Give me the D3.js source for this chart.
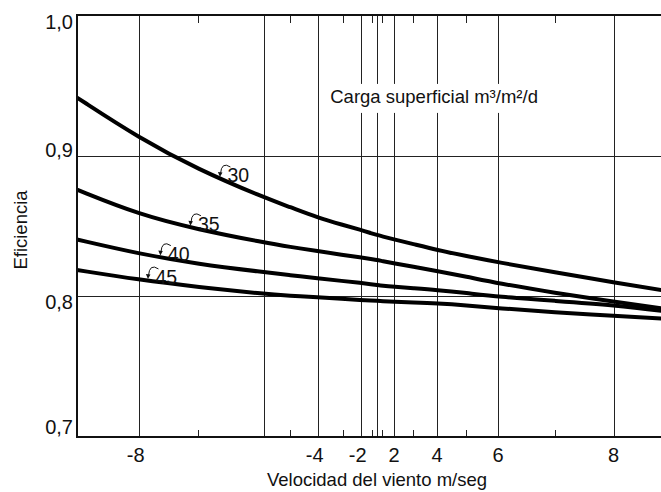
<!DOCTYPE html>
<html>
<head>
<meta charset="utf-8">
<script src="https://cdn.jsdelivr.net/npm/d3@7"></script>
<style>
  body { margin: 0; background: #fff; }
  svg { display: block; font-family: "Liberation Sans", Arial, sans-serif; }
</style>
</head>
<body>
<svg id="chart" width="661" height="492"></svg>
<script>
// wind speed samples (m/seg) the curves are read at
var windSpeeds = [-9, -8, -7, -6, -5, -4, -3, -2, -1, 0, 1, 2, 3, 4, 5, 6, 7, 8, 9];
// efficiency for each surface load (m3/m2/d)
var eff30 = [0.9413, 0.9126, 0.8902, 0.8702, 0.8635, 0.8559, 0.8508, 0.8472, 0.8448, 0.8436, 0.8427, 0.8405, 0.8373, 0.8329, 0.8287, 0.8242, 0.8172, 0.8099, 0.8034];
var eff35 = [0.8758, 0.8581, 0.8475, 0.8383, 0.8351, 0.8322, 0.8295, 0.8276, 0.8264, 0.8258, 0.8251, 0.8235, 0.8211, 0.8180, 0.8141, 0.8093, 0.8025, 0.7962, 0.7906];
var eff40 = [0.8404, 0.8302, 0.8230, 0.8172, 0.8150, 0.8128, 0.8109, 0.8095, 0.8086, 0.8081, 0.8076, 0.8068, 0.8058, 0.8045, 0.8024, 0.7997, 0.7968, 0.7938, 0.7889];
var eff45 = [0.8187, 0.8118, 0.8066, 0.8017, 0.8004, 0.7993, 0.7982, 0.7974, 0.7970, 0.7968, 0.7966, 0.7962, 0.7957, 0.7950, 0.7936, 0.7915, 0.7887, 0.7862, 0.7839];
var loads = ['30', '35', '40', '45'];
// where each load label sits along the curve (wind speed)
var labelAt = [-6.66, -7.12, -7.63, -7.84];

var yTicks = [0.7, 0.8, 0.9, 1.0];
var xLabelTicks = [-8, -4, -2, 2, 4, 6, 8];
var xGridTicks = [-8, -6, -4, -2, 0, 2, 4, 6, 8];
var xMinorTicks = [-7, -5, -3, -1, 1, 3, 5, 7];

var series = [eff30, eff35, eff40, eff45];

var svg = d3.select('#chart');
var margin = {top: 15, left: 77, bottom: 55};
var chartWidth = 661 - margin.left;
var chartHeight = 492 - margin.top - margin.bottom;

// the original axis is drawn non-uniform (squeezed round zero), so a polylinear scale
var xScale = d3.scaleLinear()
  .domain(windSpeeds)
  .range([0, 62, 121, 187, 213, 241, 265.5, 284, 294.5, 300, 305, 317, 335.5, 360, 389, 421, 477.5, 536.5, 594]);
var yScale = d3.scaleLinear().domain([0.7, 1.0]).range([chartHeight, 0]);

var g = svg.append('g')
  .attr('transform', 'translate(' + margin.left + ',' + margin.top + ')');

// grid
g.selectAll('.vgrid').data(xGridTicks).enter().append('line')
  .attr('class', 'vgrid')
  .attr('x1', function(d) { return Math.round(xScale(d)) + 0.5; })
  .attr('x2', function(d) { return Math.round(xScale(d)) + 0.5; })
  .attr('y1', 0).attr('y2', chartHeight)
  .attr('stroke', '#222').attr('stroke-width', 1);
g.selectAll('.hgrid').data([0.8, 0.9]).enter().append('line')
  .attr('class', 'hgrid')
  .attr('x1', 0).attr('x2', chartWidth)
  .attr('y1', function(d) { return Math.round(yScale(d)) + 0.5; })
  .attr('y2', function(d) { return Math.round(yScale(d)) + 0.5; })
  .attr('stroke', '#222').attr('stroke-width', 1);

// minor ticks top and bottom
g.selectAll('.mtick-b').data(xMinorTicks).enter().append('line')
  .attr('x1', function(d) { return Math.round(xScale(d)) + 0.5; })
  .attr('x2', function(d) { return Math.round(xScale(d)) + 0.5; })
  .attr('y1', chartHeight).attr('y2', chartHeight - 7)
  .attr('stroke', '#222').attr('stroke-width', 1);
g.selectAll('.mtick-t').data(xMinorTicks).enter().append('line')
  .attr('x1', function(d) { return Math.round(xScale(d)) + 0.5; })
  .attr('x2', function(d) { return Math.round(xScale(d)) + 0.5; })
  .attr('y1', 0).attr('y2', 8)
  .attr('stroke', '#222').attr('stroke-width', 1);

// legend title, with a white patch that breaks the grid lines
var titleG = g.append('g').attr('transform', 'translate(' + xScale(-3.5) + ',' + (yScale(0.9375)) + ')');
titleG.append('rect')
  .attr('x', -4).attr('y', -19).attr('width', 225).attr('height', 29)
  .attr('fill', '#fff');
titleG.append('text')
  .attr('x', 0).attr('y', 0)
  .attr('font-size', 18.5)
  .attr('fill', '#111')
  .text('Carga superficial m³/m²/d');

// curves
var line = d3.line()
  .x(function(d, i) { return xScale(windSpeeds[i]); })
  .y(function(d) { return yScale(d); })
  .curve(d3.curveBasis);

g.selectAll('.curve').data(series).enter().append('path')
  .attr('class', 'curve')
  .attr('d', line)
  .attr('fill', 'none')
  .attr('stroke', '#000')
  .attr('stroke-width', 4)
  .attr('stroke-linejoin', 'round');

// curve labels with the little hook arrows
function curveY(values, w) {
  var px = xScale(w);
  for (var i = 0; i < windSpeeds.length - 1; i++) {
    var a = xScale(windSpeeds[i]), b = xScale(windSpeeds[i + 1]);
    if (px >= a && px <= b) {
      var t = (px - a) / (b - a);
      return yScale(values[i]) * (1 - t) + yScale(values[i + 1]) * t;
    }
  }
  return yScale(values[0]);
}

loads.forEach(function(load, k) {
  var tx = xScale(labelAt[k]);
  var ty = curveY(series[k], labelAt[k]) - 3;
  g.append('path')
    .attr('d', 'M' + (tx + 10) + ',' + (ty - 9) + ' Q' + (tx + 1) + ',' + (ty - 15) + ' ' + tx + ',' + (ty - 2))
    .attr('fill', 'none').attr('stroke', '#111').attr('stroke-width', 1);
  g.append('path')
    .attr('d', 'M' + (tx - 2.5) + ',' + (ty - 4) + ' L' + (tx + 2) + ',' + (ty - 3.5) + ' L' + (tx - 0.5) + ',' + (ty + 1) + 'Z')
    .attr('fill', '#111');
  g.append('text')
    .attr('x', tx + 7).attr('y', ty + 6)
    .attr('font-size', 19.5)
    .attr('fill', '#111')
    .text(load);
});

// frame
g.append('line').attr('x1', 0).attr('x2', chartWidth).attr('y1', 0).attr('y2', 0)
  .attr('stroke', '#111').attr('stroke-width', 2);
g.append('line').attr('x1', 0).attr('x2', 0).attr('y1', -1).attr('y2', chartHeight + 1)
  .attr('stroke', '#111').attr('stroke-width', 2);
g.append('line').attr('x1', 0).attr('x2', chartWidth).attr('y1', chartHeight).attr('y2', chartHeight)
  .attr('stroke', '#111').attr('stroke-width', 2);

// y tick labels (placed around the lines the way the original has them)
var yLabelShift = {'0.7': -3, '0.8': 13, '0.9': 1.5, '1': 13.5};
g.selectAll('.ylab').data(yTicks).enter().append('text')
  .attr('x', -4)
  .attr('y', function(d) { return yScale(d) + yLabelShift[String(d)]; })
  .attr('text-anchor', 'end')
  .attr('font-size', 20)
  .attr('fill', '#111')
  .text(function(d) { return d3.format('.1f')(d).replace('.', ','); });

// x tick labels: digit centred on the line, minus hanging to the left
g.selectAll('.xlab').data(xLabelTicks).enter().append('text')
  .attr('x', function(d) { return xScale(d) + 5.6; })
  .attr('y', chartHeight + 24.5)
  .attr('text-anchor', 'end')
  .attr('font-size', 20)
  .attr('fill', '#111')
  .text(function(d) { return d < 0 ? '-' + Math.abs(d) : String(d); });

// axis titles
svg.append('text')
  .attr('x', margin.left + xScale(0))
  .attr('y', 486)
  .attr('text-anchor', 'middle')
  .attr('font-size', 18.5)
  .attr('fill', '#111')
  .text('Velocidad del viento m/seg');
svg.append('text')
  .attr('transform', 'translate(27,230) rotate(-90)')
  .attr('text-anchor', 'middle')
  .attr('font-size', 18.5)
  .attr('fill', '#111')
  .text('Eficiencia');
</script>
</body>
</html>
